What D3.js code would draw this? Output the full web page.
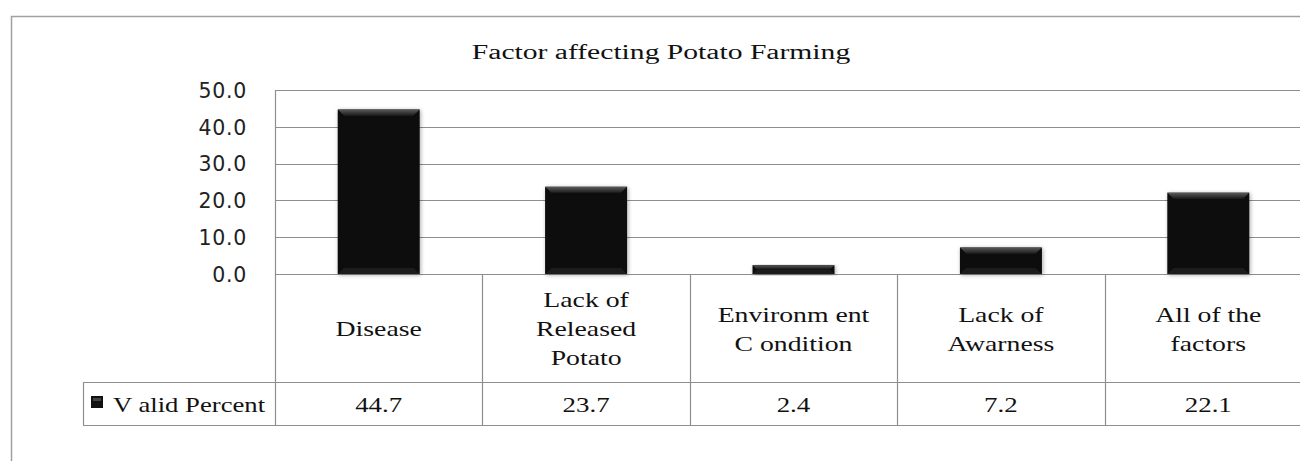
<!DOCTYPE html>
<html>
<head>
<meta charset="utf-8">
<script src="https://cdn.jsdelivr.net/npm/d3@7"></script>
<style>
  html, body { margin: 0; padding: 0; background: #fff; }
  svg { display: block; }
</style>
</head>
<body>
<svg id="chart" width="1300" height="461"></svg>
<script>
const title = "Factor affecting Potato Farming";
const categories = ["Disease", "Lack of Released Potato", "Environment Condition", "Lack of Awarness", "All of the factors"];
const categoryLines = [["Disease"], ["Lack of", "Released", "Potato"], ["Environm ent", "C ondition"], ["Lack of", "Awarness"], ["All of the", "factors"]];
const seriesName = "Valid Percent";
const values = [44.7, 23.7, 2.4, 7.2, 22.1];
const valueLabels = ["44.7", "23.7", "2.4", "7.2", "22.1"];
const yTicks = [0, 10, 20, 30, 40, 50];

(function () {
const svg = d3.select("#chart");
const serif = "'Liberation Serif', 'Times New Roman', serif";
const sans = "'DejaVu Sans', 'Liberation Sans', sans-serif";
const gridColor = "#8e8e8e";

const pLeft = 275, pRight = 1312, pTop = 90, base = 274;
const rowCatBottom = 382, rowValBottom = 425, legendLeft = 83;

const x = d3.scaleBand().domain(categories).range([pLeft, pRight]).padding(0);
const y = d3.scaleLinear().domain([0, 50]).range([base, pTop]);

// widen serif text horizontally (reference uses a wide slab-serif face)
function widen(sel, factor) {
  sel.each(function () {
    const len = this.getComputedTextLength();
    d3.select(this).attr("textLength", len * factor).attr("lengthAdjust", "spacingAndGlyphs");
  });
}

// defs
const defs = svg.append("defs");
const shadow = defs.append("filter").attr("id", "sh").attr("x", "-20%").attr("y", "-20%").attr("width", "140%").attr("height", "140%");
shadow.append("feGaussianBlur").attr("in", "SourceAlpha").attr("stdDeviation", 2);
shadow.append("feOffset").attr("dx", 1).attr("dy", 1).attr("result", "b");
shadow.append("feComponentTransfer").append("feFuncA").attr("type", "linear").attr("slope", 0.35);
const m = shadow.append("feMerge");
m.append("feMergeNode");
m.append("feMergeNode").attr("in", "SourceGraphic");

const topGrad = defs.append("linearGradient").attr("id", "tg").attr("x1", 0).attr("y1", 0).attr("x2", 0).attr("y2", 1);
topGrad.append("stop").attr("offset", "0%").attr("stop-color", "#5a5a5a");
topGrad.append("stop").attr("offset", "100%").attr("stop-color", "#111");

// outer border
svg.append("rect")
  .attr("x", 11.5).attr("y", 16.5).attr("width", 1400).attr("height", 600)
  .attr("fill", "none").attr("stroke", "#a0a0a0").attr("stroke-width", 1.5);

// title
const tt = svg.append("text")
  .attr("x", 661).attr("y", 58.5)
  .attr("text-anchor", "middle")
  .attr("font-family", serif).attr("font-size", 20)
  .attr("fill", "#111")
  .text(title);
widen(tt, 1.48);

// gridlines
svg.append("g").selectAll("line").data(yTicks).join("line")
  .attr("x1", pLeft).attr("x2", pRight)
  .attr("y1", d => Math.round(y(d)) + 0.5).attr("y2", d => Math.round(y(d)) + 0.5)
  .attr("stroke", gridColor).attr("stroke-width", 1.2);

// y axis with d3
const yAxis = d3.axisLeft(y).tickValues(yTicks).tickFormat(d3.format(".1f")).tickSize(0).tickPadding(28);
const ya = svg.append("g").attr("transform", `translate(${pLeft},0)`).call(yAxis);
ya.select(".domain").remove();
ya.selectAll("text")
  .attr("font-family", sans).attr("font-size", 20.5).attr("fill", "#222")
  .attr("letter-spacing", "0.7px").attr("dy", "0.36em");

// bars
const bw = x.bandwidth() * 0.395;
const bars = svg.append("g").selectAll("g").data(values).join("g")
  .attr("filter", "url(#sh)");
bars.append("rect")
  .attr("x", (d, i) => x(categories[i]) + (x.bandwidth() - bw) / 2)
  .attr("y", d => y(d))
  .attr("width", bw)
  .attr("height", d => base - y(d))
  .attr("fill", "#070707");
bars.append("path")
  .attr("d", (d, i) => {
    const x0 = x(categories[i]) + (x.bandwidth() - bw) / 2, x1 = x0 + bw;
    const y0 = y(d), h = Math.min(7, (base - y(d)) / 2);
    return `M${x0},${y0}L${x1},${y0}L${x1 - h},${y0 + h}L${x0 + h},${y0 + h}Z`;
  })
  .attr("fill", "url(#tg)");
bars.append("path")
  .attr("d", (d, i) => {
    const x0 = x(categories[i]) + (x.bandwidth() - bw) / 2, x1 = x0 + bw;
    const h = Math.min(6, (base - y(d)) / 2);
    return `M${x0},${base}L${x1},${base}L${x1 - h},${base - h}L${x0 + h},${base - h}Z`;
  })
  .attr("fill", "#1c1c1c");

// table lines
const tbl = svg.append("g").attr("stroke", gridColor).attr("stroke-width", 1.2).attr("fill", "none");
const bounds = categories.map(c => x(c)).concat([pRight]);
tbl.selectAll("line.v").data(bounds).join("line")
  .attr("x1", d => Math.round(d) + 0.5).attr("x2", d => Math.round(d) + 0.5)
  .attr("y1", (d, i) => i === 0 ? pTop : base).attr("y2", rowValBottom);
tbl.append("line").attr("x1", legendLeft).attr("x2", pRight).attr("y1", rowCatBottom + 0.5).attr("y2", rowCatBottom + 0.5);
tbl.append("line").attr("x1", legendLeft).attr("x2", pRight).attr("y1", rowValBottom + 0.5).attr("y2", rowValBottom + 0.5);
tbl.append("line").attr("x1", legendLeft + 0.5).attr("x2", legendLeft + 0.5).attr("y1", rowCatBottom).attr("y2", rowValBottom);

// category labels
const lh = 29;
const catG = svg.append("g").attr("font-family", serif).attr("font-size", 21).attr("fill", "#111")
  .attr("text-anchor", "middle");
categoryLines.forEach((lines, i) => {
  const cx = x(categories[i]) + x.bandwidth() / 2;
  const cy = (base + rowCatBottom) / 2;
  lines.forEach((ln, j) => {
    catG.append("text").attr("x", cx)
      .attr("y", cy + (j - (lines.length - 1) / 2) * lh + 8)
      .text(ln);
  });
});
widen(catG.selectAll("text"), 1.32);

// values row
const valY = (rowCatBottom + rowValBottom) / 2 + 8;
const vt = svg.append("g").attr("font-family", serif).attr("font-size", 21).attr("fill", "#111")
  .attr("text-anchor", "middle")
  .selectAll("text").data(valueLabels).join("text")
  .attr("x", (d, i) => x(categories[i]) + x.bandwidth() / 2)
  .attr("y", valY)
  .text(d => d);
widen(vt, 1.28);

// legend
svg.append("rect").attr("x", 91).attr("y", 396).attr("width", 12).attr("height", 12).attr("fill", "#111");
svg.append("rect").attr("x", 93).attr("y", 398).attr("width", 8).attr("height", 3).attr("fill", "#444");
const lt = svg.append("text").attr("x", 113).attr("y", valY)
  .attr("font-family", serif).attr("font-size", 21).attr("fill", "#111")
  .text("V alid Percent");
widen(lt, 1.27);
})();
</script>
</body>
</html>
